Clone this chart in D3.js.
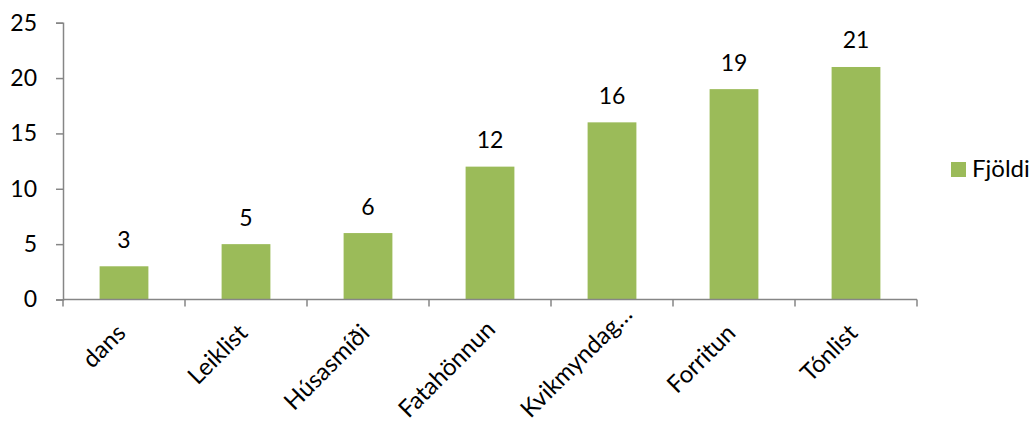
<!DOCTYPE html>
<html>
<head>
<meta charset="utf-8">
<script src="https://cdn.jsdelivr.net/npm/d3@7"></script>
<style>
  body { margin: 0; background: #fff; }
  svg { display: block; font-family: Lato, "Open Sans", sans-serif; }
</style>
</head>
<body>
<div id="chart"></div>
<script>
// data
const categories = ["dans", "Leiklist", "Húsasmíði", "Fatahönnun", "Kvikmyndag…", "Forritun", "Tónlist"];
const counts = [3, 5, 6, 12, 16, 19, 21];
const yTicks = [0, 5, 10, 15, 20, 25];
const seriesName = "Fjöldi";

const width = 1034, height = 426;
const barColor = "#9bbb59";
const axisColor = "#868686";

const svg = d3.select("#chart")
    .append("svg")
    .attr("width", width)
    .attr("height", height);

// plot area
const plotLeft = 63, plotRight = 917, plotTop = 22.7, plotBottom = 299.5;

const x = d3.scaleBand()
    .domain(categories)
    .range([plotLeft, plotRight])
    .paddingInner(0.6)
    .paddingOuter(0.3);

const y = d3.scaleLinear()
    .domain([0, 25])
    .range([plotBottom, plotTop]);

// y axis
const yAxis = svg.append("g")
    .attr("transform", `translate(${plotLeft},0)`)
    .call(d3.axisLeft(y).tickValues(yTicks).tickSize(7).tickPadding(19));
yAxis.select(".domain").attr("stroke", axisColor).attr("stroke-width", 1.5);
yAxis.selectAll(".tick line").attr("stroke", axisColor).attr("stroke-width", 1.5);
yAxis.selectAll(".tick text")
    .attr("fill", "#000")
    .style("font-family", "Lato, sans-serif")
    .style("font-size", "23px");

// bars
svg.selectAll(".bar")
    .data(counts)
    .enter().append("rect")
    .attr("class", "bar")
    .attr("x", (d, i) => x(categories[i]))
    .attr("width", x.bandwidth())
    .attr("y", d => y(d))
    .attr("height", d => y(0) - y(d))
    .attr("fill", barColor);

// value labels
svg.selectAll(".val")
    .data(counts)
    .enter().append("text")
    .attr("class", "val")
    .attr("x", (d, i) => x(categories[i]) + x.bandwidth() / 2)
    .attr("y", d => y(d) - 18.5)
    .attr("text-anchor", "middle")
    .style("font-size", "23px")
    .text(d => d);

// x axis: ticks at the band edges like Excel
const xAxis = svg.append("g");
xAxis.append("line")
    .attr("x1", plotLeft).attr("x2", plotRight)
    .attr("y1", plotBottom).attr("y2", plotBottom)
    .attr("stroke", axisColor).attr("stroke-width", 1.5);

const edges = categories.map(c => x(c) - x.step() * x.paddingInner() / 2);
edges.push(plotRight);
xAxis.selectAll(".xt")
    .data(edges)
    .enter().append("line")
    .attr("x1", d => d).attr("x2", d => d)
    .attr("y1", plotBottom).attr("y2", plotBottom + 7)
    .attr("stroke", axisColor).attr("stroke-width", 1.5);

// rotated labels; long ones get pushed up along their baseline to stay inside
const labelBottom = 419;
const k = Math.SQRT1_2;
xAxis.selectAll(".xl")
    .data(categories)
    .enter().append("text")
    .attr("class", "xl")
    .attr("text-anchor", "end")
    .style("font-size", "24px")
    .text(d => d)
    .attr("transform", function(d) {
        let ex = x(d) + x.bandwidth() / 2 + 3;
        let ey = plotBottom + 35;
        const len = this.getComputedTextLength();
        const over = ey + len * k - labelBottom;
        if (over > 0) {
            ex += over;
            ey -= over;
        }
        return `translate(${ex},${ey}) rotate(-45)`;
    });

// legend
const legend = svg.append("g").attr("transform", "translate(951,162)");
legend.append("rect")
    .attr("width", 15).attr("height", 15)
    .attr("fill", barColor);
legend.append("text")
    .attr("x", 21).attr("y", 15)
    .style("font-size", "24px")
    .text(seriesName);
</script>
</body>
</html>
